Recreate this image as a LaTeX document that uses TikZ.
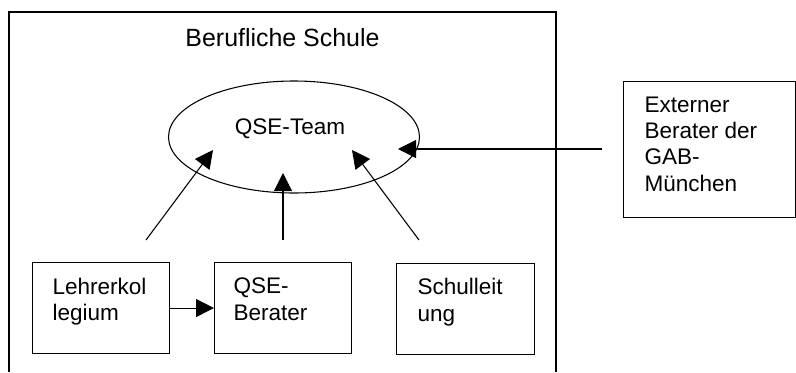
\documentclass[tikz,border=0pt]{standalone}
\usepackage{fontspec}
\setmainfont{Liberation Sans}
\usetikzlibrary{arrows.meta,shapes.geometric}
\begin{document}
\begin{tikzpicture}[x=0.75pt,y=-0.75pt,line width=0.8pt,
  txt/.style={font=\fontsize{16.9}{19.8}\selectfont},
  boxtext/.style={txt,align=left,inner sep=0pt,anchor=north west},
  box/.style={draw,rectangle,anchor=north west,inner sep=0pt,minimum height=68.25pt,minimum width=102.75pt},
  arr/.style={-{Triangle[length=13.5pt,width=13.5pt]}}]
\useasboundingbox (0,0) rectangle (796,372);
% outer frame (Berufliche Schule), bottom edge runs off the picture
\draw (9,372) |- (556,12) -- (556,372);
\node[font=\fontsize{18.7}{22}\selectfont,anchor=base] (title) at (282.5,46) {Berufliche Schule};
% QSE-Team ellipse
\node[draw,ellipse,inner sep=0pt,minimum width=188.25pt,minimum height=84pt] (team) at (294,137) {};
\node[txt,anchor=base] (teamtext) at (290,134.3) {QSE-Team};
% boxes
\node[box] (lk) at (32,262) {};
\node[boxtext] (lktext) at (52,277.7) {Lehrerkol\\legium};
\node[box] (qb) at (214,262) {};
\node[boxtext] (qbtext) at (233,277.7) {QSE-\\Berater};
\node[box,minimum width=103.5pt] (sl) at (396,263) {};
\node[boxtext] (sltext) at (417,278) {Schulleit\\ung};
\node[box,minimum width=129pt,minimum height=102pt] (ext) at (623,81) {};
\node[boxtext] (exttext) at (644,96) {Externer\\Berater der\\GAB-\\München};
% connector coordinates
\coordinate (s1) at (146,240);
\coordinate (t1) at (213,150);
\coordinate (s2) at (283,240);
\coordinate (t2) at (283,173);
\coordinate (s3) at (419,240);
\coordinate (t3) at (352,150);
\coordinate (s4) at (602,149);
\coordinate (t4) at (398,149);
% arrows
\draw[arr] (s1) -- (t1);
\draw[arr] (s2) -- (t2);
\draw[arr] (s3) -- (t3);
\draw[arr] (s4) -- (t4);
\draw[arr] (lk.east) -- (qb.west);
\end{tikzpicture}
\end{document}
